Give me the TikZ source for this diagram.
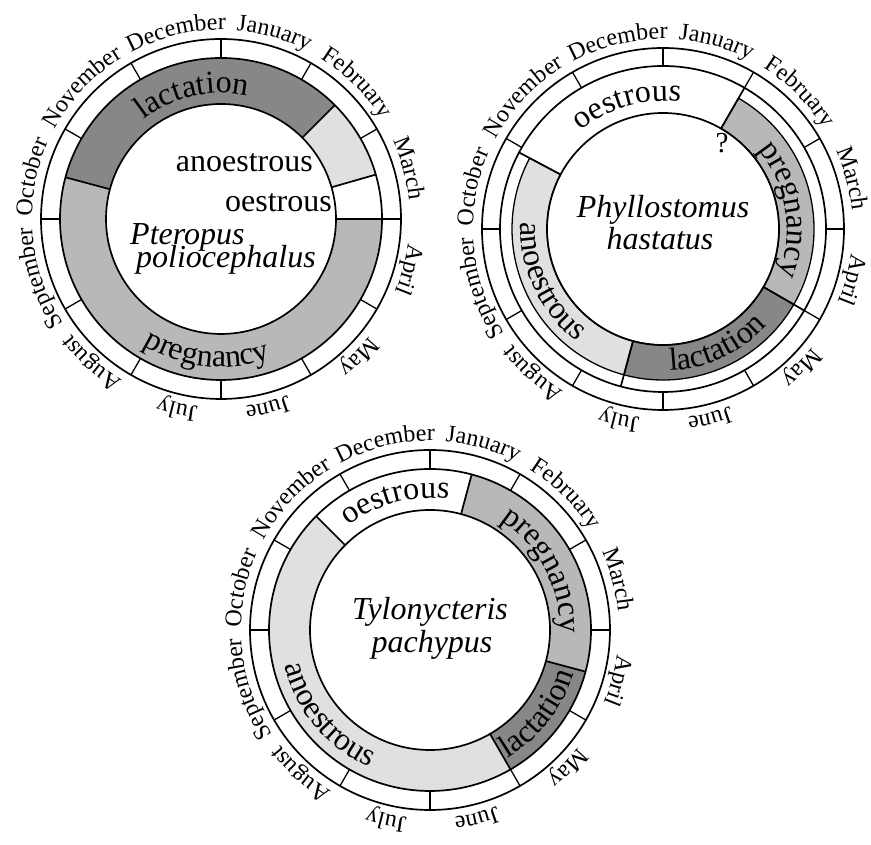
\documentclass[tikz,border=0pt]{standalone}
\usepackage{fontspec}
\setmainfont{Liberation Serif}
\usetikzlibrary{decorations.text}

\colorlet{lactgray}{black!47}
\colorlet{preggray}{black!28}
\colorlet{anoegray}{black!12}

\newcommand\monthfont{\fontsize{24}{26}\selectfont}
\newcommand\bandfont{\fontsize{32}{34}\selectfont}

\begin{document}
\begin{tikzpicture}[
        x=1pt, y=1pt,
        ring/.style={line width=1.7pt},
        tick/.style={line width=1.3pt},
        monthtext/.style={
            decorate,
            decoration={text along path, text align=center,
                text/.expanded={|\noexpand\monthfont|#1}}
        },
        bandtext/.style={
            decorate,
            decoration={text along path, text align=center,
                text={|\bandfont|#1}}
        },
        species/.style={font=\bandfont\itshape, inner sep=0pt},
        phase/.style={font=\bandfont, inner sep=0pt}
    ]
    \useasboundingbox (0,0) rectangle (871,845);

    \coordinate (ptero) at (221,626);
    \coordinate (phyllo) at (663,616);
    \coordinate (tylo) at (430,215);

    % Pteropus poliocephalus
    \begin{scope}[shift={(ptero)}]
        \foreach \s/\e/\col in {45/165/lactgray, 165/360/preggray, 16/45/anoegray}
            \fill[fill=\col] (\s:161) arc[start angle=\s, end angle=\e, radius=161]
                -- (\e:115) arc[start angle=\e, end angle=\s, radius=115] -- cycle;
        \draw[ring] (0,0) circle[radius=115];
        \foreach \b in {0,16,45,165}
            \draw[ring] (\b:115) -- (\b:161);
        \path[bandtext=lactation] (148:126) arc[start angle=148, end angle=58, radius=126];
        \path[bandtext=pregnancy] (219:148) arc[start angle=219, end angle=309, radius=148];
    \end{scope}
    \node[phase, anchor=base east] (ptero-anoe) at (313,673) {anoestrous};
    \node[phase, anchor=base east] (ptero-oest) at (332,633) {oestrous};
    \node[species, anchor=base west] (ptero-genus) at (130,600) {Pteropus};
    \node[species, anchor=base west] (ptero-name) at (136,577) {poliocephalus};

    % Phyllostomus hastatus
    \begin{scope}[shift={(phyllo)}]
        \foreach \s/\e/\col in {-30/60/preggray, 255/330/lactgray, 152/255/anoegray}
            \filldraw[fill=\col, tick] (\s:151) arc[start angle=\s, end angle=\e, radius=151]
                -- (\e:116) arc[start angle=\e, end angle=\s, radius=116] -- cycle;
        \draw[ring] (0,0) circle[radius=116];
        \foreach \b in {60,152,255,330}
            \draw[ring] (\b:116) -- (\b:163);
        \path[bandtext=oestrous] (151:128) arc[start angle=151, end angle=61, radius=128];
        \path[bandtext=pregnancy] (54:124) arc[start angle=54, end angle=-36, radius=124];
        \path[bandtext=lactation] (250:142) arc[start angle=250, end angle=340, radius=142];
        \path[bandtext=anoestrous] (160:142) arc[start angle=160, end angle=250, radius=142];
    \end{scope}
    \node[font=\fontsize{29}{29}\selectfont, inner sep=0pt] (query) at (722,702) {?};
    \node[species, anchor=base] (phyllo-genus) at (663,627) {Phyllostomus};
    \node[species, anchor=base] (phyllo-name) at (660,595) {hastatus};

    % Tylonycteris pachypus
    \begin{scope}[shift={(tylo)}]
        \foreach \s/\e/\col in {-15/75/preggray, 300/345/lactgray, 135/300/anoegray}
            \fill[fill=\col] (\s:161) arc[start angle=\s, end angle=\e, radius=161]
                -- (\e:120) arc[start angle=\e, end angle=\s, radius=120] -- cycle;
        \draw[ring] (0,0) circle[radius=120];
        \foreach \b in {75,135,300,345}
            \draw[ring] (\b:120) -- (\b:161);
        \path[bandtext=oestrous] (150:132) arc[start angle=150, end angle=60, radius=132];
        \path[bandtext=pregnancy] (73:130) arc[start angle=73, end angle=-17, radius=130];
        \path[bandtext=lactation] (277:150) arc[start angle=277, end angle=367, radius=150];
        \path[bandtext=anoestrous] (175:150) arc[start angle=175, end angle=265, radius=150];
    \end{scope}
    \node[species, anchor=base] (tylo-genus) at (430,225) {Tylonycteris};
    \node[species, anchor=base] (tylo-name) at (432,192) {pachypus};

    % month rings
    \foreach \c/\ro/\ri in {ptero/180/161, phyllo/181/163, tylo/180/161} {
        \begin{scope}[shift={(\c)}]
            \draw[ring] (0,0) circle[radius=\ro];
            \draw[ring] (0,0) circle[radius=\ri];
            \foreach \k in {0,30,...,330}
                \draw[tick] (\k:\ri) -- (\k:\ro);
            \pgfmathsetmacro\rl{\ro+9}
            \foreach \m/\d [count=\i] in {January/-1, February/0, March/0, April/0, May/0, June/-1,
                    July/2, August/3, September/3, October/2.5, November/1.5, December/-1.5} {
                \pgfmathsetmacro\sa{135-30*\i+\d}
                \pgfmathsetmacro\ea{75-30*\i+\d}
                \path[monthtext=\m] (\sa:\rl) arc[start angle=\sa, end angle=\ea, radius=\rl];
            }
        \end{scope}
    }
\end{tikzpicture}
\end{document}
